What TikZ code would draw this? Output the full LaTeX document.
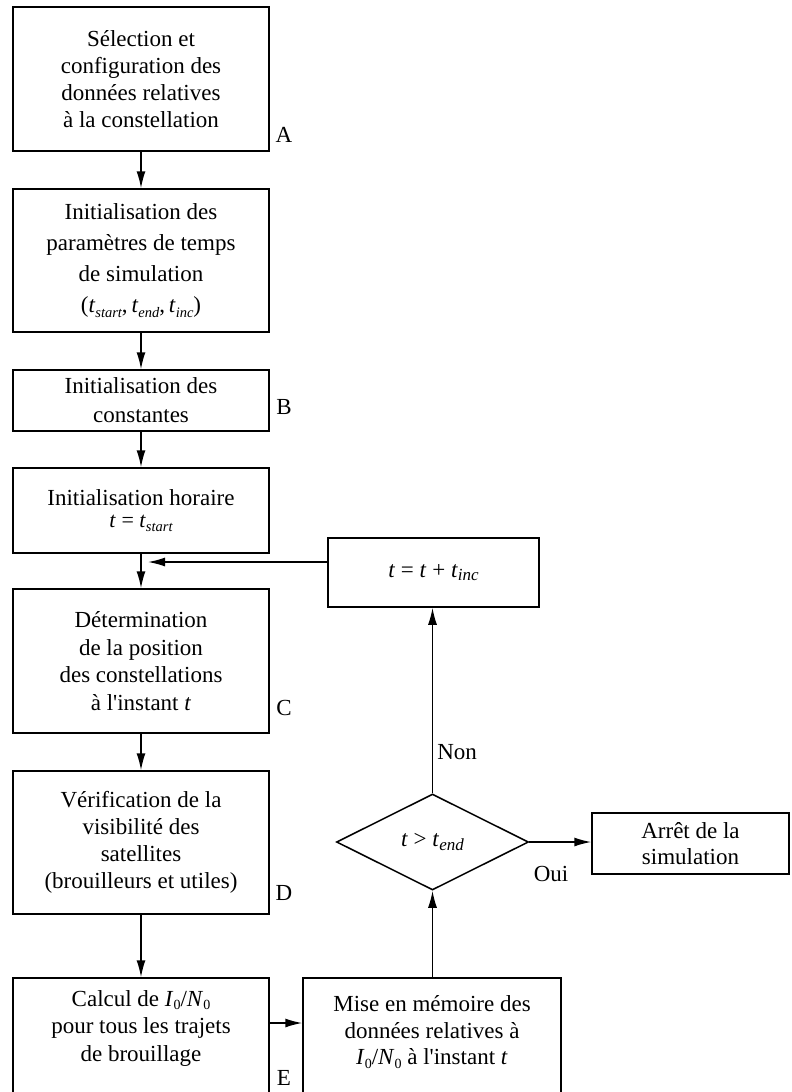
\documentclass[tikz,border=0pt]{standalone}
\usepackage{fontspec}
\setmainfont{Liberation Serif}[Ligatures=TeXOff]
\usetikzlibrary{arrows.meta,shapes.geometric,calc}
\newcommand{\sbs}[1]{\raisebox{-0.45ex}{\fontsize{14.5}{14.5}\selectfont\itshape #1}}
\newcommand{\sbb}[1]{\raisebox{-0.35ex}{\fontsize{17}{17}\selectfont\itshape #1}}
\newcommand{\snum}[1]{\raisebox{-0.35ex}{\fontsize{14}{14}\selectfont #1}}
\newcommand{\ti}{\textit{t}}
\begin{document}
\begin{tikzpicture}[x=1pt,y=-1pt,
  box/.style={draw,line width=1.5pt,inner sep=0pt,align=center,font=\fontsize{23}{27}\selectfont},
  txt/.style={inner sep=0pt,align=center,font=\fontsize{23}{27}\selectfont},
  lbl/.style={inner sep=0pt,font=\fontsize{23}{27}\selectfont},
  arr/.style={line width=1.5pt,-{Latex[length=17pt,width=9pt]}}]
\clip (0,0) rectangle (792,1092);
\fill[white] (0,0) rectangle (792,1092);
% left column
\node[box,minimum width=256,minimum height=144] (A) at (141,79)
  {Sélection et\\configuration des\\données relatives\\à la constellation};
\node[box,minimum width=256,minimum height=143,font=\fontsize{23}{31}\selectfont] (T) at (141,260.5)
  {Initialisation des\\paramètres de temps\\de simulation\\(\ti\sbs{start},\,\ti\sbs{end},\,\ti\sbs{inc})};
\node[box,minimum width=256,minimum height=61,font=\fontsize{23}{29}\selectfont] (B) at (141,400.5)
  {Initialisation des\\constantes};
\node[box,minimum width=256,minimum height=85,font=\fontsize{23}{22}\selectfont] (H) at (141,510.5)
  {Initialisation horaire\\{\fontsize{22}{22}\selectfont\ti{} = \ti\sbs{start}}};
\node[box,minimum width=256,minimum height=144,font=\fontsize{23}{27.5}\selectfont] (C) at (141,661)
  {Détermination\\de la position\\des constellations\\à l'instant \ti};
\node[box,minimum width=256,minimum height=143] (D) at (141,842.5)
  {Vérification de la\\visibilité des\\satellites\\(brouilleurs et utiles)};
\node[box,minimum width=256,minimum height=122] (E) at (141,1039) {};
\node[txt,font=\fontsize{23}{27.5}\selectfont] (Et) at (141,1028)
  {Calcul de \textit{I}\snum{0}/\textit{N}\snum{0}\\pour tous les trajets\\de brouillage};
% right column
\node[box,minimum width=258,minimum height=122] (M) at (432,1039) {};
\node[txt,font=\fontsize{23}{26.5}\selectfont] (Mt) at (432,1032)
  {Mise en mémoire des\\données relatives à\\\textit{I}\snum{0}/\textit{N}\snum{0} à l'instant \ti};
\node[box,minimum width=211,minimum height=69] (Inc) at (433.5,572.5)
  {\ti{} = \ti{} + \ti\sbb{inc}};
\node[draw,diamond,line width=1.5pt,minimum width=192,minimum height=96,inner sep=0pt,
  font=\fontsize{23}{27}\selectfont] (dia) at (432.5,842) {\ti{} > \ti\sbb{end}};
\node[box,minimum width=197,minimum height=61,font=\fontsize{23}{26}\selectfont] (S) at (690.5,843.5)
  {Arrêt de la\\simulation};
% side labels
\node[lbl] (la) at (284,135) {A};
\node[lbl] (lb) at (284,407) {B};
\node[lbl] (lc) at (284,708) {C};
\node[lbl] (ld) at (284,893) {D};
\node[lbl] (le) at (284,1078) {E};
% connectors
\draw[arr] (A) -- (T);
\draw[arr] (T) -- (B);
\draw[arr] (B) -- (H);
\draw[arr] (H) -- (C);
\coordinate (j) at (148,562);
\draw[arr] (Inc.west |- j) -- (j);
\draw[arr] (C) -- (D);
\draw[arr] (D.south) -- (E.north);
\coordinate (ey) at (285,1023);
\draw[arr] (E.east |- ey) -- (M.west |- ey);
\draw[arr] (M.north -| dia.south) -- (dia.south);
\draw[arr] (dia.north) -- (dia.north |- Inc.south) node[pos=0.22,right=4pt,lbl] (non) {Non};
\draw[arr] (dia.east) -- (dia.east -| S.west);
\node[lbl] (oui) at (551,874) {Oui};
\end{tikzpicture}
\end{document}
